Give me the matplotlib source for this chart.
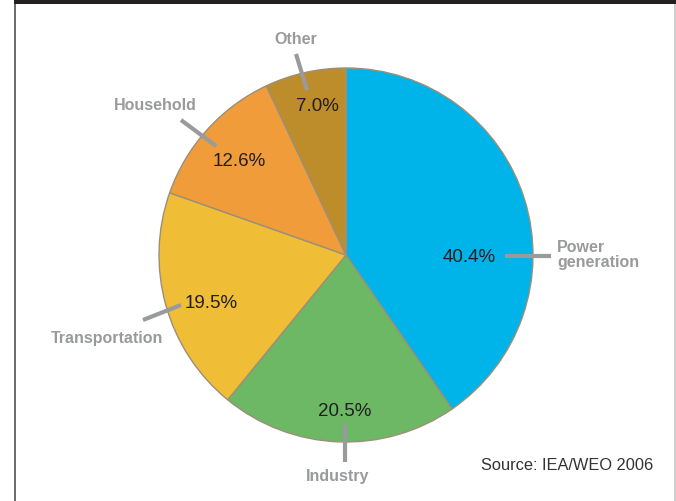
import matplotlib.pyplot as plt
from matplotlib.patches import Rectangle

# data
sectors = ['Power\ngeneration', 'Industry', 'Transportation', 'Household', 'Other']
shares = [40.4, 20.5, 19.5, 12.6, 7.0]
colors = ['#00b3e8', '#6cb864', '#f0bd36', '#f09c3a', '#bd8d2b']

W, H = 676, 501

fig = plt.figure(figsize=(W / 100, H / 100), dpi=100)
ax = fig.add_axes([0, 0, 1, 1])
ax.set_xlim(0, W)
ax.set_ylim(0, H)
ax.set_aspect('equal')
ax.axis('off')

def py(y):
    # pixel row (from top) -> data y
    return H - y

# frame: black bar on top, grey lines on the sides
ax.add_patch(Rectangle((14, py(4)), W - 14, 4, color='#231f20', lw=0))
ax.add_patch(Rectangle((14, 0), 2, H - 4, color='#6d6d6d', lw=0))
ax.add_patch(Rectangle((674, 0), 2, H - 4, color='#cfcfcf', lw=0))

cx, cy, r = 346, py(255), 187
ax.pie(shares, colors=colors, startangle=90, counterclock=False,
       center=(cx, cy), radius=r, frame=True,
       wedgeprops=dict(edgecolor='#9c8f78', linewidth=1.0))
ax.set_xlim(0, W)
ax.set_ylim(0, H)
ax.axis('off')

# layout of the labels (pixel coords from top-left)
pct_pos = [(469, 258), (345, 411), (211, 304), (239, 161), (317, 106)]
lead = [((505, 256), (551, 256)), ((345, 424), (345, 462)),
        ((143, 320), (181, 305)), ((181, 120), (216, 146)),
        ((296, 54), (307, 90))]
name_pos = [(557, 255, 'left'), (338, 476, 'center'), (107, 338, 'center'),
            (155, 105, 'center'), (296, 39, 'center')]

font = 'Liberation Sans'
for s, v, (px, pyy), (a, b), (nx, ny, ha) in zip(sectors, shares, pct_pos, lead, name_pos):
    ax.text(px, py(pyy), f'{v:.1f}%', ha='center', va='center',
            fontsize=13.5, color='#231f20', family=font)
    ax.plot([a[0], b[0]], [py(a[1]), py(b[1])], color='#999a9c', lw=3,
            solid_capstyle='butt')
    ax.text(nx, py(ny), s, ha=ha, va='center', fontsize=11.5, fontweight='bold',
            color='#999a9c', family=font, linespacing=1.05)

ax.text(567, py(465), 'Source: IEA/WEO 2006', ha='center', va='center',
        fontsize=11.8, color='#333333', family=font)

fig.savefig('out.png', dpi=100)
